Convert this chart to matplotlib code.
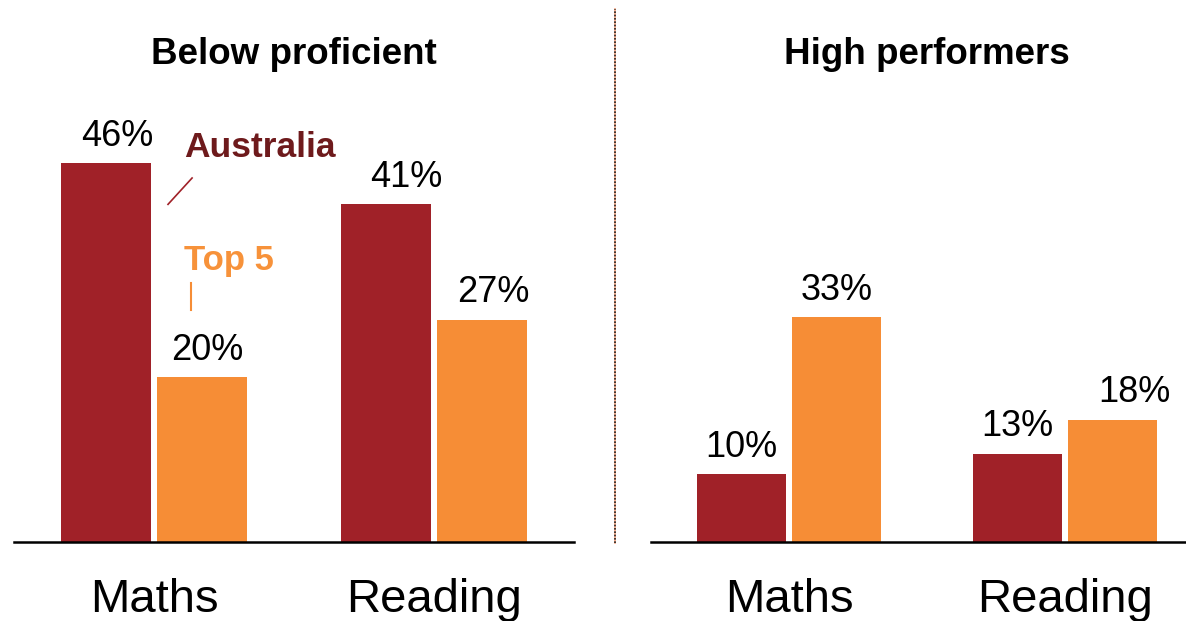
import matplotlib
matplotlib.use("Agg")
import numpy as np
import matplotlib.pyplot as plt
from matplotlib.lines import Line2D

plt.rcParams['font.family'] = ['Liberation Sans', 'DejaVu Sans']

# data
categories = ["Maths", "Reading"]
panel_titles = ["Below proficient", "High performers"]
australia = [[46, 41], [10, 13]]
top5 = [[20, 27], [33, 18]]

dark_red = "#A02128"
orange = "#F68D36"

W, H = 1186, 621
fig = plt.figure(figsize=(W / 100, H / 100), dpi=100)

# axes placement in pixels: (left, width), bottom at y=542, top at y=10
ax_specs = [(14, 560, 64.6), (651, 552, 78.2)]
# small horizontal nudges of value labels (points), as in the original
label_dx = [[(8, 4), (15, 8)], [(0, 0), (0, 16)]]

axes = []
for i, (left, width, ymax) in enumerate(ax_specs):
    ax = fig.add_axes([left / W, (H - 542) / H, width / W, 532 / H])
    x = np.arange(len(categories))
    off, bw = 0.172, 0.32
    b1 = ax.bar(x - off, australia[i], bw, color=dark_red)
    b2 = ax.bar(x + off, top5[i], bw, color=orange)
    for j, (r1, r2) in enumerate(zip(b1, b2)):
        for k, (r, v) in enumerate(((r1, australia[i][j]), (r2, top5[i][j]))):
            ax.annotate(f"{v}%", (r.get_x() + r.get_width() / 2, v),
                        xytext=(label_dx[i][j][k], 12.5), textcoords="offset points",
                        ha="center", va="baseline", fontsize=26, color="black")
    ax.set_xlim(-0.5, 1.5)
    ax.set_ylim(0, ymax)
    ax.set_xticks(x)
    ax.set_xticklabels(categories, fontsize=34)
    ax.tick_params(axis="x", length=0, pad=26)
    ax.set_yticks([])
    for s in ["top", "left", "right"]:
        ax.spines[s].set_visible(False)
    ax.spines["bottom"].set_linewidth(1.8)
    ax.spines["bottom"].set_color("black")
    ax.set_clip_on(False)
    fig.text((left + width / 2) / W, (H - 64) / H, panel_titles[i],
             ha="center", va="baseline", fontsize=26.5, fontweight="bold")
    axes.append(ax)

# legend-style annotations on the first panel
ax0 = axes[0]
ax0.text(0.107, 46.7, "Australia", color="#6E1A1C", fontsize=25.5,
         fontweight="bold", ha="left", va="baseline")
ax0.plot([0.05, 0.136], [41.0, 44.2], color=dark_red, lw=1.2)
ax0.text(0.107, 33.0, "Top 5", color="#F7923A", fontsize=25,
         fontweight="bold", ha="left", va="baseline")
ax0.plot([0.132, 0.132], [28.2, 31.4], color=orange, lw=1.5)

# dotted divider between panels
xd = 615 / W
fig.add_artist(Line2D([xd, xd], [(H - 543) / H, (H - 9) / H], color="#F4A07A", lw=1.2))
fig.add_artist(Line2D([xd, xd], [(H - 543) / H, (H - 9) / H], color="#222222", lw=1.2,
                      linestyle=(0, (1, 1))))

fig.savefig("out.png", dpi=100)
